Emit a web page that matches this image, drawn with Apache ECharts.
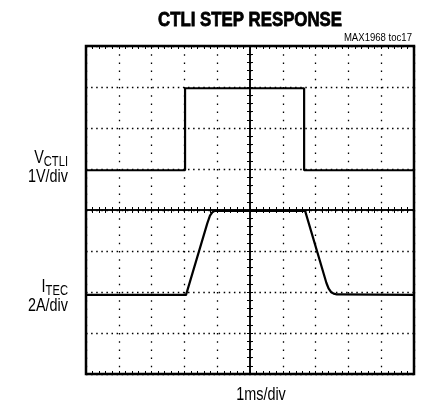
<!DOCTYPE html>
<html>
<head>
<meta charset="utf-8">
<script src="https://cdn.jsdelivr.net/npm/echarts@6/dist/echarts.min.js"></script>
<style>
  html, body { margin: 0; padding: 0; background: #fff; }
  #chart { width: 425px; height: 408px; }
</style>
</head>
<body>
<div id="chart"></div>
<script>
// 波形数据（单位：格，x 为 1ms/div，y 为从下往上数的格数）
var ctliTime = [0, 3.02, 3.02, 6.65, 6.65, 10];
var ctliDiv = [4.97, 4.97, 6.97, 6.97, 4.97, 4.97];

var tecTime = [0, 3.05, 3.7, 3.78, 3.85, 3.92, 6.68, 7.05, 7.33, 7.4, 7.47, 7.55, 7.65, 10];
var tecDiv = [1.93, 1.93, 3.68, 3.86, 3.94, 3.98, 3.98, 2.98, 2.22, 2.08, 2.0, 1.96, 1.94, 1.93];

var xDivs = 10;
var yDivs = 8;

var font = '"Liberation Sans", Arial, sans-serif';

function pairs(xs, ys) {
  return xs.map(function (x, i) { return [x, ys[i]]; });
}

// 用 scaleX 把普通字体压窄，模拟原图的窄体字
function label(x, y, text, size, align, sx, bold) {
  var style = {
    text: text,
    align: align,
    verticalAlign: "middle",
    fill: "#000",
    font: (bold ? "bold " : "") + size + "px " + font
  };
  if (bold) {
    // 原图标题是很粗的黑体，加一点描边
    style.stroke = "#000";
    style.lineWidth = 0.8;
  }
  return { type: "text", x: x, y: y, scaleX: sx, style: style };
}

function sideLabel(x, y, main, sub, unit) {
  return {
    type: "text",
    x: x,
    y: y,
    scaleX: 0.8,
    style: {
      text: "{v|" + main + "}{s|" + sub + "}\n{n|" + unit + "}",
      align: "right",
      fill: "#000",
      rich: {
        v: { fontFamily: font, fontSize: 18, lineHeight: 21, verticalAlign: "bottom" },
        s: { fontFamily: font, fontSize: 14, lineHeight: 21, verticalAlign: "bottom", padding: [0, 0, -2, 0] },
        n: { fontFamily: font, fontSize: 18, lineHeight: 21 }
      }
    }
  };
}

var myChart = echarts.init(document.getElementById("chart"));

var hidden = { show: false };

var option = {
  animation: false,
  backgroundColor: "#fff",
  graphic: [
    label(250, 20, "CTLI STEP RESPONSE", 21, "center", 0.8, true),
    label(412, 38, "MAX1968 toc17", 11, "right", 0.87, false),
    label(261, 395, "1ms/div", 18, "center", 0.8, false),
    sideLabel(68, 146, "V", "CTLI", "1V/div"),
    sideLabel(68, 275, "I", "TEC", "2A/div")
  ],
  grid: {
    left: 86,
    top: 46,
    width: 328,
    height: 328,
    show: true,
    borderColor: "#000",
    borderWidth: 2.5,
    backgroundColor: "#fff"
  },
  xAxis: [
    {
      // 主时间轴 + 竖向点状网格
      type: "value", min: 0, max: xDivs, interval: 1,
      axisLine: hidden, axisTick: hidden, axisLabel: hidden,
      splitLine: { show: true, lineStyle: { color: "#000", width: 1.3, type: [1.5, 6.7] } }
    },
    {
      // 中心横线，刻度朝上
      type: "value", min: -5, max: 5, interval: 0.2,
      axisLine: { show: true, onZero: true, onZeroAxisIndex: 1, lineStyle: { color: "#000", width: 1.5 } },
      axisTick: { show: true, inside: true, length: 3, lineStyle: { color: "#000", width: 1 } },
      axisLabel: hidden, splitLine: hidden
    },
    {
      // 中心横线，刻度朝下
      type: "value", min: -5, max: 5, interval: 0.2,
      axisLine: { show: true, onZero: true, onZeroAxisIndex: 1, lineStyle: { color: "#000", width: 1.5 } },
      axisTick: { show: true, inside: false, length: 3, lineStyle: { color: "#000", width: 1 } },
      axisLabel: hidden, splitLine: hidden
    },
    {
      // 上边框刻度
      type: "value", min: 0, max: xDivs, interval: 0.2, position: "top",
      axisLine: { show: false, onZero: false },
      axisTick: { show: true, inside: true, length: 3, lineStyle: { color: "#000", width: 1 } },
      axisLabel: hidden, splitLine: hidden
    },
    {
      // 下边框刻度
      type: "value", min: 0, max: xDivs, interval: 0.2, position: "bottom",
      axisLine: { show: false, onZero: false },
      axisTick: { show: true, inside: true, length: 3, lineStyle: { color: "#000", width: 1 } },
      axisLabel: hidden, splitLine: hidden
    }
  ],
  yAxis: [
    {
      type: "value", min: 0, max: yDivs, interval: 1,
      axisLine: hidden, axisTick: hidden, axisLabel: hidden,
      splitLine: { show: true, lineStyle: { color: "#000", width: 1.3, type: [1.5, 3.6] } }
    },
    {
      // 中心竖线，刻度朝右
      type: "value", min: -4, max: 4, interval: 0.2,
      axisLine: { show: true, onZero: true, onZeroAxisIndex: 1, lineStyle: { color: "#000", width: 1.5 } },
      axisTick: { show: true, inside: true, length: 3, lineStyle: { color: "#000", width: 1 } },
      axisLabel: hidden, splitLine: hidden
    },
    {
      // 中心竖线，刻度朝左
      type: "value", min: -4, max: 4, interval: 0.2,
      axisLine: { show: true, onZero: true, onZeroAxisIndex: 1, lineStyle: { color: "#000", width: 1.5 } },
      axisTick: { show: true, inside: false, length: 3, lineStyle: { color: "#000", width: 1 } },
      axisLabel: hidden, splitLine: hidden
    }
  ],
  series: [
    {
      name: "VCTLI",
      type: "line",
      xAxisIndex: 0,
      yAxisIndex: 0,
      data: pairs(ctliTime, ctliDiv),
      showSymbol: false,
      lineStyle: { color: "#000", width: 2.2 },
      z: 5
    },
    {
      name: "ITEC",
      type: "line",
      xAxisIndex: 0,
      yAxisIndex: 0,
      data: pairs(tecTime, tecDiv),
      showSymbol: false,
      lineStyle: { color: "#000", width: 2.2, join: "round" },
      z: 5
    }
  ]
};

myChart.setOption(option);
</script>
</body>
</html>
